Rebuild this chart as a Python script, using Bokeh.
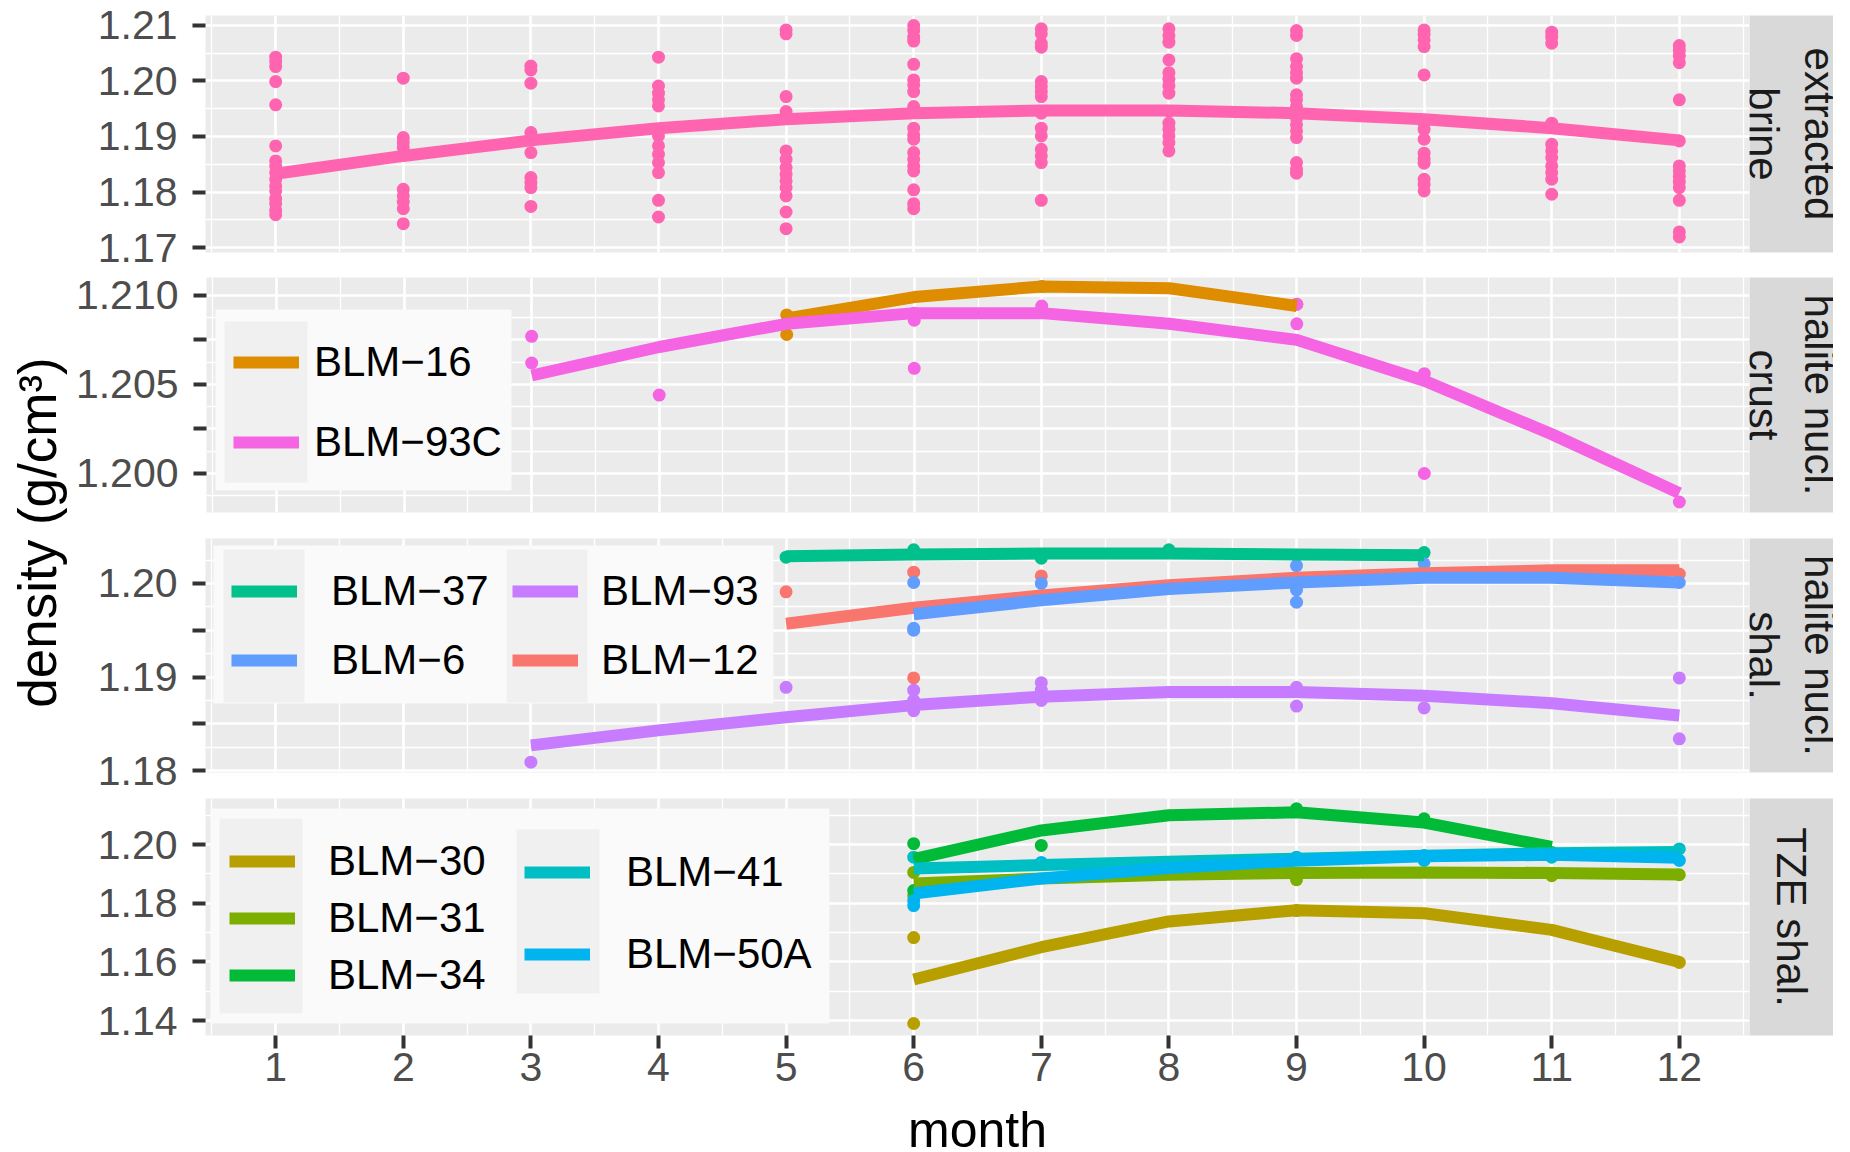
import numpy as np
from bokeh.plotting import figure
from bokeh.layouts import row, column
from bokeh.models import (Range1d, FixedTicker, Grid, Legend, LegendItem,
                          NumeralTickFormatter, BoxAnnotation)
from bokeh.core.properties import value
from bokeh.embed import file_html
from bokeh.resources import INLINE

FONT = "Liberation Sans"

# ------------------------------------------------------------------ data
months = [1, 2, 3, 4, 5, 6, 7, 8, 9, 10, 11, 12]
month_minor = [0.5, 1.5, 2.5, 3.5, 4.5, 5.5, 6.5, 7.5, 8.5, 9.5, 10.5, 11.5, 12.5]

# panel 1 : extracted brine (points grouped by month)
brine_by_month = [
    [1.2043, 1.2035, 1.2026, 1.1999, 1.1957, 1.1883, 1.1856, 1.1847, 1.1835, 1.1823, 1.1811, 1.1802, 1.1788, 1.1779, 1.1767, 1.1759],
    [1.2005, 1.1898, 1.1889, 1.1880, 1.1805, 1.1793, 1.1782, 1.1770, 1.1743],
    [1.2027, 1.2020, 1.1996, 1.1907, 1.1898, 1.1871, 1.1826, 1.1817, 1.1808, 1.1774],
    [1.2043, 1.1991, 1.1978, 1.1966, 1.1955, 1.1901, 1.1883, 1.1868, 1.1853, 1.1835, 1.1785, 1.1755],
    [1.2092, 1.2085, 1.1972, 1.1945, 1.1936, 1.1874, 1.1859, 1.1844, 1.1832, 1.1820, 1.1808, 1.1793, 1.1764, 1.1734],
    [1.2100, 1.2091, 1.2079, 1.2072, 1.2030, 1.2002, 1.1993, 1.1981, 1.1954, 1.1945, 1.1915, 1.1903, 1.1895, 1.1871, 1.1859, 1.1847, 1.1838, 1.1804, 1.1779, 1.1770],
    [1.2094, 1.2085, 1.2068, 1.2061, 1.1999, 1.1990, 1.1981, 1.1972, 1.1942, 1.1915, 1.1901, 1.1877, 1.1865, 1.1853, 1.1785],
    [1.2094, 1.2082, 1.2070, 1.2038, 1.2015, 1.2003, 1.1991, 1.1978, 1.1945, 1.1924, 1.1913, 1.1901, 1.1889, 1.1874],
    [1.2091, 1.2082, 1.2040, 1.2026, 1.2015, 1.2005, 1.1975, 1.1966, 1.1954, 1.1933, 1.1921, 1.1910, 1.1898, 1.1853, 1.1841, 1.1834],
    [1.2092, 1.2084, 1.2074, 1.2062, 1.2011, 1.1924, 1.1913, 1.1895, 1.1870, 1.1860, 1.1852, 1.1823, 1.1814, 1.1802],
    [1.2088, 1.2079, 1.2068, 1.1924, 1.1886, 1.1874, 1.1862, 1.1847, 1.1835, 1.1823, 1.1796],
    [1.2064, 1.2055, 1.2045, 1.2033, 1.1966, 1.1892, 1.1847, 1.1838, 1.1828, 1.1818, 1.1808, 1.1785, 1.1728, 1.1719],
]
brine_fit = [1.1833, 1.1865, 1.1893, 1.1915, 1.1931, 1.1942, 1.1947, 1.1947, 1.1942, 1.1931, 1.1915, 1.1893]

# panel 2 : halite nucl. crust
blm16_x = [5, 5, 7, 9]
blm16_y = [1.2089, 1.2078, 1.2105, 1.2095]
blm16_fit_x = [5, 6, 7, 8, 9]
blm16_fit_y = [1.2087, 1.2099, 1.2105, 1.2104, 1.2094]

blm93c_x = [3, 3, 4, 6, 6, 6, 7, 9, 9, 10, 10, 12]
blm93c_y = [1.2077, 1.2062, 1.2044, 1.2090, 1.2086, 1.2059, 1.2094, 1.2095, 1.2084, 1.2056, 1.2000, 1.1984]
blm93c_fit_x = [3, 4, 5, 6, 7, 8, 9, 10, 11, 12]
blm93c_fit_y = [1.2055, 1.2071, 1.2084, 1.2090, 1.2090, 1.2084, 1.2075, 1.2052, 1.2022, 1.1989]

# panel 3 : halite nucl. shal.
blm12_x = [5, 6, 6, 7, 9, 12]
blm12_y = [1.1991, 1.2012, 1.1899, 1.2008, 1.2003, 1.2010]
blm12_fit_x = [5, 6, 7, 8, 9, 10, 11, 12]
blm12_fit_y = [1.1957, 1.1974, 1.1987, 1.1998, 1.2006, 1.2011, 1.2014, 1.2014]

blm37_x = [5, 6, 7, 8, 9, 10]
blm37_y = [1.2028, 1.2036, 1.2027, 1.2036, 1.2030, 1.2033]
blm37_fit_x = [5, 6, 7, 8, 9, 10]
blm37_fit_y = [1.2029, 1.2031, 1.2032, 1.2032, 1.2031, 1.2030]

blm6_x = [6, 6, 6, 7, 9, 9, 9, 10, 12]
blm6_y = [1.2001, 1.1952, 1.1950, 1.2000, 1.2019, 1.1993, 1.1980, 1.2021, 1.2001]
blm6_fit_x = [6, 7, 8, 9, 10, 11, 12]
blm6_fit_y = [1.1967, 1.1982, 1.1994, 1.2001, 1.2006, 1.2006, 1.2001]

blm93_x = [3, 5, 6, 6, 6, 7, 7, 7, 9, 9, 10, 12, 12]
blm93_y = [1.1809, 1.1889, 1.1886, 1.1875, 1.1864, 1.1894, 1.1886, 1.1875, 1.1889, 1.1869, 1.1867, 1.1899, 1.1834]
blm93_fit_x = [3, 4, 5, 6, 7, 8, 9, 10, 11, 12]
blm93_fit_y = [1.1827, 1.1843, 1.1857, 1.1870, 1.1879, 1.1884, 1.1884, 1.1880, 1.1872, 1.1859]

# panel 4 : TZE shal.
blm30_x = [6, 6, 9, 12]
blm30_y = [1.1683, 1.1390, 1.1775, 1.1598]
blm30_fit_x = [6, 7, 8, 9, 10, 11, 12]
blm30_fit_y = [1.1540, 1.1650, 1.1738, 1.1776, 1.1766, 1.1709, 1.1600]

blm31_x = [6, 6, 9, 9, 11, 12]
blm31_y = [1.1905, 1.1826, 1.1895, 1.1880, 1.1894, 1.1897]
blm31_fit_x = [6, 7, 8, 9, 10, 11, 12]
blm31_fit_y = [1.1867, 1.1884, 1.1897, 1.1903, 1.1905, 1.1903, 1.1898]

blm34_x = [6, 6, 7, 9, 10, 11]
blm34_y = [1.2003, 1.1843, 1.1997, 1.2122, 1.2088, 1.1973]
blm34_fit_x = [6, 7, 8, 9, 10, 11]
blm34_fit_y = [1.1950, 1.2048, 1.2100, 1.2110, 1.2075, 1.1992]

blm41_x = [6, 9, 10, 11, 12]
blm41_y = [1.1957, 1.1952, 1.1963, 1.1957, 1.1985]
blm41_fit_x = [6, 7, 8, 9, 10, 11, 12]
blm41_fit_y = [1.1918, 1.1930, 1.1941, 1.1952, 1.1962, 1.1970, 1.1975]

blm50a_x = [6, 6, 7, 9, 10, 11, 12]
blm50a_y = [1.1809, 1.1792, 1.1939, 1.1957, 1.1946, 1.1963, 1.1946]
blm50a_fit_x = [6, 7, 8, 9, 10, 11, 12]
blm50a_fit_y = [1.1833, 1.1884, 1.1920, 1.1945, 1.1960, 1.1965, 1.1955]

# axis ticks
p1_yticks = [1.17, 1.18, 1.19, 1.20, 1.21]
p1_yblank = []
p1_ygrid = [1.17, 1.18, 1.19, 1.20, 1.21]
p1_yminor = [1.175, 1.185, 1.195, 1.205]

p2_yticks = [1.200, 1.205, 1.210]
p2_yblank = [1.2025, 1.2075]
p2_ygrid = [1.200, 1.2025, 1.205, 1.2075, 1.210]
p2_yminor = [1.19875, 1.20125, 1.20375, 1.20625, 1.20875]

p3_yticks = [1.18, 1.19, 1.20]
p3_yblank = [1.185, 1.195]
p3_ygrid = [1.18, 1.185, 1.19, 1.195, 1.20]
p3_yminor = [1.1825, 1.1875, 1.1925, 1.1975, 1.2025]

p4_yticks = [1.14, 1.16, 1.18, 1.20]
p4_yblank = []
p4_ygrid = [1.14, 1.16, 1.18, 1.20]
p4_yminor = [1.15, 1.17, 1.19, 1.21]

strip_labels = ["extracted\nbrine", "halite nucl.\ncrust", "halite nucl.\nshal.", "TZE shal."]

COL = {
    "brine": "#FF64B0", "BLM-16": "#DE8C00", "BLM-93C": "#F564E3",
    "BLM-12": "#F8766D", "BLM-37": "#00C08B", "BLM-6": "#619CFF", "BLM-93": "#C77CFF",
    "BLM-30": "#B79F00", "BLM-31": "#7CAE00", "BLM-34": "#00BA38", "BLM-41": "#00BFC4",
    "BLM-50A": "#00B4F0",
}

brine_x = [m for m, vals in zip(months, brine_by_month) for _ in vals]
brine_y = [v for vals in brine_by_month for v in vals]

# ------------------------------------------------------------------ layout constants
YT_W = 72
LEFT = 133
PANEL_W = 1749 - YT_W
STRIP_W = 84
X_LIM = (0.45, 12.55)
TICK_COL = "#333333"
LAB_COL = "#4D4D4D"
TICK_FS = "41px"
LEG_FS = "42px"
PT_SIZE = 13
LINE_W = 12


def style_y(ax, fmt, ticks, blank):
    ax.ticker = FixedTicker(ticks=ticks, minor_ticks=blank)
    ax.formatter = NumeralTickFormatter(format=fmt)
    ax.axis_line_color = None
    ax.major_tick_out = 13
    ax.major_tick_in = 0
    ax.major_tick_line_width = 4
    ax.major_tick_line_color = TICK_COL
    ax.minor_tick_out = 13
    ax.minor_tick_in = 0
    ax.minor_tick_line_width = 4
    ax.minor_tick_line_color = TICK_COL
    ax.major_label_text_font = FONT
    ax.major_label_text_font_size = TICK_FS
    ax.major_label_text_color = LAB_COL
    ax.major_label_standoff = 15


def make_panel(height, top, bottom, yr, yticks, yblank, ygrid, yminor, fmt, series, show_x):
    p = figure(width=PANEL_W, height=height, x_range=Range1d(*X_LIM), y_range=Range1d(*yr),
               x_axis_location="below" if show_x else None, y_axis_location="left",
               min_border_left=LEFT, min_border_right=0, min_border_top=top, min_border_bottom=bottom,
               toolbar_location=None, output_backend="svg")
    p.background_fill_color = "#EBEBEB"
    p.border_fill_color = "white"
    p.outline_line_color = None
    p.center = [c for c in p.center if not isinstance(c, Grid)]
    p.add_layout(Grid(dimension=0, ticker=FixedTicker(ticks=months, minor_ticks=month_minor),
                      grid_line_color="white", grid_line_width=2.6,
                      minor_grid_line_color="white", minor_grid_line_width=1.3))
    p.add_layout(Grid(dimension=1, ticker=FixedTicker(ticks=ygrid, minor_ticks=yminor),
                      grid_line_color="white", grid_line_width=2.6,
                      minor_grid_line_color="white", minor_grid_line_width=1.3))
    style_y(p.yaxis[0], fmt, yticks, yblank)
    if show_x:
        xa = p.xaxis[0]
        xa.ticker = FixedTicker(ticks=months, minor_ticks=[])
        xa.axis_line_color = None
        xa.major_tick_out = 13
        xa.major_tick_in = 0
        xa.major_tick_line_width = 4
        xa.major_tick_line_color = TICK_COL
        xa.minor_tick_out = 0
        xa.major_label_text_font = FONT
        xa.major_label_text_font_size = TICK_FS
        xa.major_label_text_color = LAB_COL
        xa.major_label_standoff = 4
    for name, px, py, fx, fy in series:
        p.scatter(px, py, size=PT_SIZE, color=COL[name], line_color=None)
    lines = {}
    for name, px, py, fx, fy in series:
        lines[name] = p.line(fx, fy, line_width=LINE_W, color=COL[name])
    return p, lines


def make_strip(height, top, bottom, label):
    s = figure(width=STRIP_W, height=height, x_range=Range1d(0, 1), y_range=Range1d(0, 1),
               x_axis_location=None, y_axis_location=None,
               min_border_left=0, min_border_right=0, min_border_top=top, min_border_bottom=bottom,
               toolbar_location=None, output_backend="svg")
    s.background_fill_color = "#D9D9D9"
    s.border_fill_color = "white"
    s.outline_line_color = None
    s.grid.visible = False
    s.text(x=[0.5], y=[0.5], text=[label], angle=-np.pi / 2, text_align="center",
           text_baseline="middle", text_font=value(FONT), text_font_size="42px",
           text_color="#1A1A1A", text_line_height=1.2)
    return s


def legend_bg(p, box, keys):
    l, r, b, t = box
    p.add_layout(BoxAnnotation(left=l, right=r, bottom=b, top=t,
                               left_units="screen", right_units="screen",
                               bottom_units="screen", top_units="screen",
                               fill_color="#FAFAFA", fill_alpha=1.0, line_color=None))
    for (l, r, b, t) in keys:
        p.add_layout(BoxAnnotation(left=l, right=r, bottom=b, top=t,
                                   left_units="screen", right_units="screen",
                                   bottom_units="screen", top_units="screen",
                                   fill_color="#F0F0F0", fill_alpha=1.0, line_color=None))


def add_legend(p, lines, names, loc, spacing, standoff):
    items = [LegendItem(label=n.replace("-", "\u2212"), renderers=[lines[n]]) for n in names]
    lg = Legend(items=items, location=loc, orientation="vertical", padding=0, spacing=spacing,
                label_standoff=standoff, glyph_width=66, glyph_height=48, label_height=48,
                label_text_font=FONT, label_text_font_size=LEG_FS, label_text_color="black",
                background_fill_alpha=0.0, border_line_color=None, margin=0)
    p.add_layout(lg)


# ------------------------------------------------------------------ panels
# (height, top border, bottom border) per row
R1 = (272, 15, 20)
R2 = (253, 5, 13)
R3 = (269, 13, 22)
R4 = (308, 4, 67)

p1, l1 = make_panel(*R1, (1.1691, 1.2118), p1_yticks, p1_yblank, p1_ygrid, p1_yminor, "0.00",
                    [("brine", brine_x, brine_y, months, brine_fit)], False)

p2, l2 = make_panel(*R2, (1.19781, 1.2110), p2_yticks, p2_yblank, p2_ygrid, p2_yminor, "0.000",
                    [("BLM-16", blm16_x, blm16_y, blm16_fit_x, blm16_fit_y),
                     ("BLM-93C", blm93c_x, blm93c_y, blm93c_fit_x, blm93c_fit_y)], False)
legend_bg(p2, (9, 305, 22, 203), [(18, 101, 30, 191)])
add_legend(p2, l2, ["BLM-16", "BLM-93C"], (27, 46), 32, 15)

p3, l3 = make_panel(*R3, (1.1798, 1.2048), p3_yticks, p3_yblank, p3_ygrid, p3_yminor, "0.00",
                    [("BLM-12", blm12_x, blm12_y, blm12_fit_x, blm12_fit_y),
                     ("BLM-37", blm37_x, blm37_y, blm37_fit_x, blm37_fit_y),
                     ("BLM-6", blm6_x, blm6_y, blm6_fit_x, blm6_fit_y),
                     ("BLM-93", blm93_x, blm93_y, blm93_fit_x, blm93_fit_y)], False)
legend_bg(p3, (8, 568, 69, 227), [(18, 99, 70, 223), (301, 382, 70, 223)])
add_legend(p3, l3, ["BLM-37", "BLM-6"], (26, 88), 21, 34)
add_legend(p3, l3, ["BLM-93", "BLM-12"], (307, 88), 21, 23)

p4, l4 = make_panel(*R4, (1.1349, 1.2157), p4_yticks, p4_yblank, p4_ygrid, p4_yminor, "0.00",
                    [("BLM-30", blm30_x, blm30_y, blm30_fit_x, blm30_fit_y),
                     ("BLM-31", blm31_x, blm31_y, blm31_fit_x, blm31_fit_y),
                     ("BLM-34", blm34_x, blm34_y, blm34_fit_x, blm34_fit_y),
                     ("BLM-41", blm41_x, blm41_y, blm41_fit_x, blm41_fit_y),
                     ("BLM-50A", blm50a_x, blm50a_y, blm50a_fit_x, blm50a_fit_y)], True)
legend_bg(p4, (5, 624, 12, 227), [(14, 97, 22, 217), (311, 394, 42, 206)])
add_legend(p4, l4, ["BLM-30", "BLM-31", "BLM-34"], (24, 36), 9, 33)
add_legend(p4, l4, ["BLM-41", "BLM-50A"], (319, 57), 34, 36)

s1 = make_strip(*R1, strip_labels[0])
s2 = make_strip(*R2, strip_labels[1])
s3 = make_strip(*R3, strip_labels[2])
s4 = make_strip(*R4, strip_labels[3])

# x title
xt = figure(width=PANEL_W, height=50, x_range=Range1d(0, 1), y_range=Range1d(0, 1),
            x_axis_location=None, y_axis_location=None, min_border_left=LEFT, min_border_right=0,
            min_border_top=0, min_border_bottom=0, toolbar_location=None, output_backend="svg")
xt.outline_line_color = None
xt.background_fill_color = "white"
xt.grid.visible = False
xt.text(x=[0.5], y=[0.446], text=["month"], text_align="center", text_baseline="middle",
        text_font=value(FONT), text_font_size="50px", text_color="black")

# y title
yt = figure(width=YT_W, height=1152, x_range=Range1d(0, 1), y_range=Range1d(0, 1),
            x_axis_location=None, y_axis_location=None, min_border=0,
            toolbar_location=None, output_backend="svg")
yt.outline_line_color = None
yt.grid.visible = False
yt.text(x=[0.514], y=[0.5382], text=["density (g/cm\u00b3)"], angle=np.pi / 2, text_align="center",
        text_baseline="middle", text_font=value(FONT), text_font_size="53px", text_color="black")

layout = row(yt, column(row(p1, s1), row(p2, s2), row(p3, s3), row(p4, s4), xt))

open("out.html", "w").write(file_html(layout, INLINE))
